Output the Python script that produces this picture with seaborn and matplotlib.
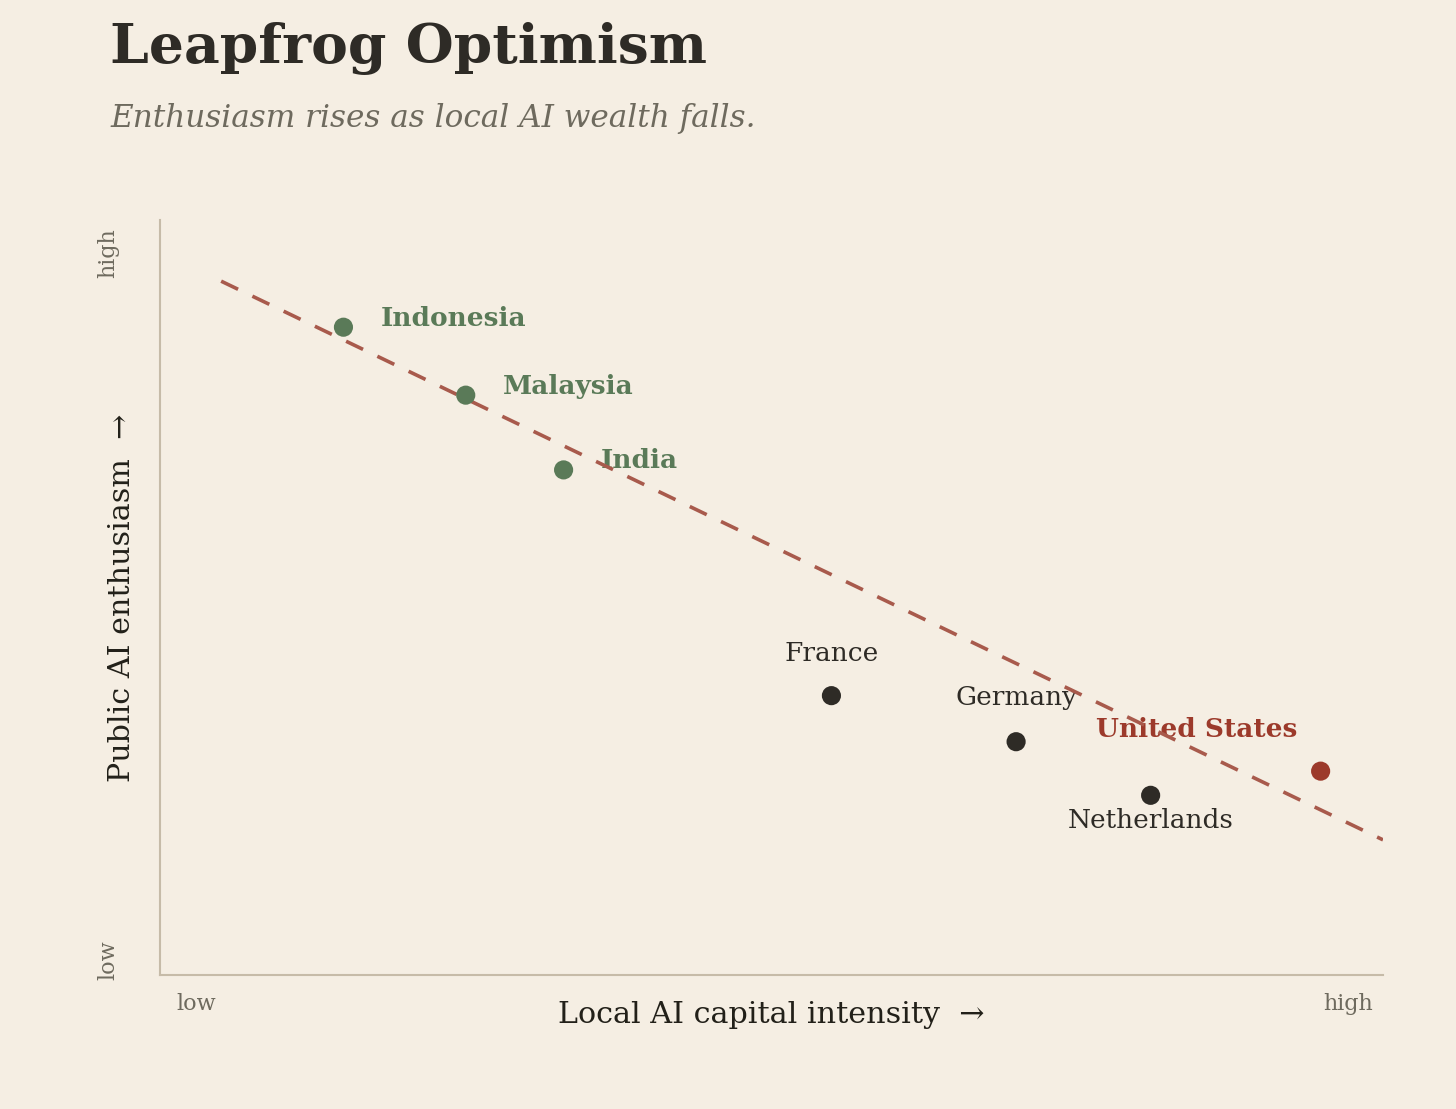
import matplotlib
matplotlib.use("Agg")
import matplotlib.pyplot as plt
import seaborn as sns
import pandas as pd

# ---- data ----
countries = ["Indonesia", "Malaysia", "India", "France", "Germany", "Netherlands", "United States"]
capital_intensity = [1.50, 2.50, 3.30, 5.49, 7.00, 8.10, 9.49]
enthusiasm = [8.58, 7.68, 6.69, 3.70, 3.09, 2.38, 2.70]
groups = ["emerging", "emerging", "emerging", "europe", "europe", "europe", "us"]
trend_x = [0.5, 10.0]
trend_y = [9.19, 1.79]
x_tick_labels = ["low", "high"]
y_tick_labels = ["low", "high"]

BG = "#F5EEE3"
GREEN = "#5A7A58"
DARK = "#2E2B26"
RED = "#9C3A2B"
TREND = "#A85A4C"
GRAY = "#6E6A5E"
SPINE = "#C6BBA8"

sns.set_theme(style="white")
plt.rcParams["font.family"] = ["DejaVu Serif"]

df = pd.DataFrame({"country": countries, "x": capital_intensity, "y": enthusiasm, "group": groups})
palette = {"emerging": GREEN, "europe": DARK, "us": RED}

fig = plt.figure(figsize=(14.56, 11.09), dpi=100, facecolor=BG)
ax = fig.add_axes([160/1456, 1-975/1109, 1223/1456, 755/1109])
ax.set_facecolor(BG)

sns.lineplot(x=trend_x, y=trend_y, ax=ax, color=TREND, lw=2.6, dashes=False, zorder=4)
ax.lines[-1].set_dashes((5.2, 4.4))

sns.scatterplot(data=df, x="x", y="y", hue="group", palette=palette, s=190,
                edgecolor="none", legend=False, ax=ax, zorder=5)

ax.set_xlim(0, 10)
ax.set_ylim(0, 10)

# labels
offsets = {
    "Indonesia": (37, 9, "left"),
    "Malaysia": (37, 9, "left"),
    "India": (37, 9, "left"),
    "France": (0, 42, "center"),
    "Germany": (0, 44, "center"),
    "Netherlands": (0, -25, "center"),
    "United States": (-124, 42, "center"),
}
for c, x, y, g in zip(countries, capital_intensity, enthusiasm, groups):
    dx, dy, ha = offsets[c]
    bold = g != "europe"
    ax.annotate(c, (x, y), xytext=(dx, dy), textcoords="offset pixels",
                ha=ha, va="center", fontsize=19,
                fontweight="bold" if bold else "normal",
                color=palette[g], zorder=3)

for sp in ["top", "right"]:
    ax.spines[sp].set_visible(False)
for sp in ["left", "bottom"]:
    ax.spines[sp].set_color(SPINE)
    ax.spines[sp].set_linewidth(1.5)
ax.set_xticks([])
ax.set_yticks([])

ax.set_xlabel("Local AI capital intensity  \u2192", fontsize=21.7, color="#222019", labelpad=19)
ax.set_ylabel("Public AI enthusiasm  \u2192", fontsize=21.7, color="#222019", labelpad=17)

ax.text(0.013, -0.038, x_tick_labels[0], transform=ax.transAxes, ha="left", va="center", fontsize=16, color=GRAY)
ax.text(0.992, -0.038, x_tick_labels[1], transform=ax.transAxes, ha="right", va="center", fontsize=16, color=GRAY)
ax.text(-0.0425, 0.02, y_tick_labels[0], transform=ax.transAxes, ha="center", va="center", rotation=90, fontsize=16, color=GRAY)
ax.text(-0.0425, 0.956, y_tick_labels[1], transform=ax.transAxes, ha="center", va="center", rotation=90, fontsize=16, color=GRAY)

fig.text(110/1456, 1-63/1109, "Leapfrog Optimism", fontsize=39.7, fontweight="bold", color=DARK, ha="left", va="baseline")
fig.text(110/1456, 1-127/1109, "Enthusiasm rises as local AI wealth falls.", fontsize=22.4, style="italic", color=GRAY, ha="left", va="baseline")

fig.savefig("out.png", dpi=100, facecolor=BG)
